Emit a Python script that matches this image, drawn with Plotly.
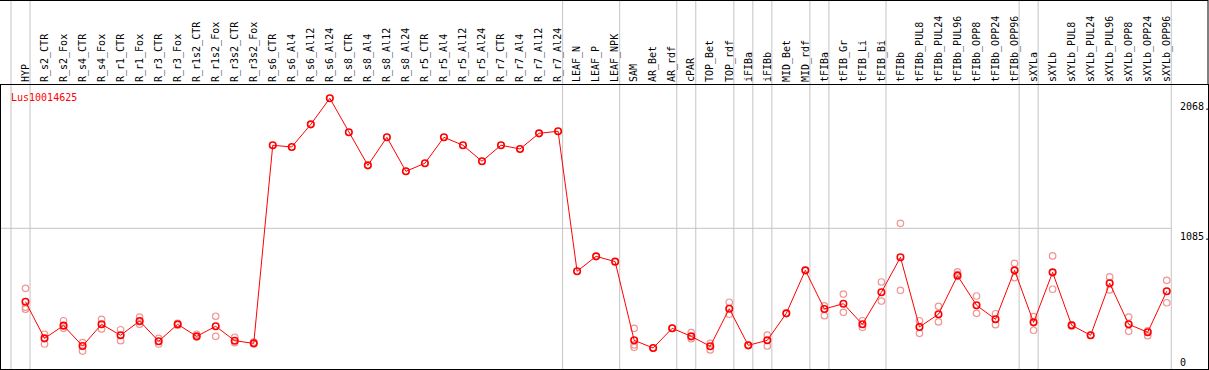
import plotly.graph_objects as go

categories = ["HYP", "R_s2_CTR", "R_s2_Fox", "R_s4_CTR", "R_s4_Fox", "R_r1_CTR", "R_r1_Fox",
              "R_r3_CTR", "R_r3_Fox", "R_r1s2_CTR", "R_r1s2_Fox", "R_r3s2_CTR", "R_r3s2_Fox",
              "R_s6_CTR", "R_s6_Al4", "R_s6_Al12", "R_s6_Al24", "R_s8_CTR", "R_s8_Al4", "R_s8_Al12",
              "R_s8_Al24", "R_r5_CTR", "R_r5_Al4", "R_r5_Al12", "R_r5_Al24", "R_r7_CTR", "R_r7_Al4",
              "R_r7_Al12", "R_r7_Al24", "LEAF_N", "LEAF_P", "LEAF_NPK", "SAM", "AR_Bet", "AR_rdf",
              "cPAR", "TOP_Bet", "TOP_rdf", "iFIBa", "iFIBb", "MID_Bet", "MID_rdf", "tFIBa",
              "tFIB_Gr", "tFIB_Li", "tFIB_Bi", "tFIBb", "tFIBb_PUL8", "tFIBb_PUL24", "tFIBb_PUL96",
              "tFIBb_OPP8", "tFIBb_OPP24", "tFIBb_OPP96", "sXYLa", "sXYLb", "sXYLb_PUL8",
              "sXYLb_PUL24", "sXYLb_PUL96", "sXYLb_OPP8", "sXYLb_OPP24", "sXYLb_OPP96"]

mean_values = [530, 253, 349, 195, 359, 276, 384, 231, 359, 268, 344, 235, 215,
               1713, 1700, 1871, 2068, 1811, 1561, 1773, 1516, 1577, 1773, 1713, 1592,
               1713, 1685, 1803, 1819, 760, 873, 833, 238, 180, 329, 268, 193, 477,
               200, 238, 442, 767, 475, 515, 359, 601, 866, 339, 435, 727, 503, 397,
               767, 374, 752, 352, 276, 669, 359, 299, 609]

rep1 = [631, 284, 386, 220, 397, 318, 414, 253, 367, 284, 420, 261, 225,
        None, None, None, None, None, None, None, None, None, None, None, None,
        None, None, None, None, None, None, None, 329, 180, 329, 296, 215, 526,
        200, 278, 442, 767, 498, 588, 386, 679, 1123, 386, 495, 755, 573, 439,
        820, 417, 876, 345, 276, 717, 414, 273, 692]

rep2 = [488, 210, 329, 157, 324, 235, 379, 210, 352, 263, 268, 220, 212,
        None, None, None, None, None, None, None, None, None, None, None, None,
        None, None, None, None, None, None, None, 203, None, None, 250, 165, 435,
        None, 195, None, None, 424, 450, 336, 535, 616, 291, 377, 737, 442, 356,
        712, 314, 624, 355, None, 619, 306, 310, 522]

rep3 = [473, None, None, None, None, None, 359, None, None, None, None, None, None,
        None, None, None, None, None, None, None, None, None, None, None, None,
        None, None, None, None, None, None, None, 185, None, None, None, None, None,
        None, None, None, None, None, None, None, None, None, None, None, None, None, None,
        None, None, None, None, None, None, None, None, None]

group_ends = [-1, 0, 28, 31, 34, 35, 37, 38, 39, 41, 42, 45, 52, 53, 60]

series_name = "Lus10014625"
y_tick_labels = ["2068.", "1085.", "0"]
mid_line_value = 1085
max_value = 2068

FONT = "DejaVu Sans Mono"
rep_color = "#f09696"

fig = go.Figure()

for reps in (rep1, rep2, rep3):
    fig.add_trace(go.Scatter(
        x=categories, y=reps, mode="markers",
        marker=dict(symbol="circle-open", size=6.5, color=rep_color,
                    line=dict(width=1.2, color=rep_color)),
        hoverinfo="skip", showlegend=False, cliponaxis=False))

fig.add_trace(go.Scatter(
    x=categories, y=mean_values, mode="lines+markers",
    line=dict(color="red", width=1),
    marker=dict(symbol="circle-open", size=6.5, color="red",
                line=dict(width=1.6, color="red")),
    showlegend=False, cliponaxis=False))

x_lo, x_hi = -1.288, 62.17
y_lo, y_hi = 21.1, 2168.6

shapes = []
for g in group_ends:
    shapes.append(dict(type="line", xref="x", yref="paper", x0=g + 0.24, x1=g + 0.24,
                       y0=0, y1=369 / 284, line=dict(color="#c4c4c4", width=1), layer="below"))
shapes.append(dict(type="line", xref="x", yref="y", x0=x_lo, x1=60.24,
                   y0=mid_line_value, y1=mid_line_value,
                   line=dict(color="#c4c4c4", width=1), layer="below"))
# header frame (top and right)
shapes.append(dict(type="line", xref="paper", yref="paper", x0=-1 / 1207, x1=1,
                   y0=368.5 / 284, y1=368.5 / 284, line=dict(color="black", width=1)))
shapes.append(dict(type="line", xref="paper", yref="paper", x0=1, x1=1,
                   y0=1, y1=369 / 284, line=dict(color="black", width=1)))

annotations = [
    dict(text=series_name, xref="paper", yref="paper", x=8 / 1207, y=(369 - 97.5) / 284,
         xanchor="left", yanchor="middle", showarrow=False,
         font=dict(family=FONT, size=10, color="red")),
]
for lab, val, anc in zip(y_tick_labels, [max_value, mid_line_value, 0], ["top", "top", "bottom"]):
    if anc == "bottom":
        yv, yref = 0.0, "paper"
    else:
        yv, yref = val, "y"
    annotations.append(dict(text=lab, xref="paper", yref=yref, x=1177 / 1207, y=yv,
                            xanchor="left", yanchor=anc, showarrow=False, yshift=-1,
                            font=dict(family=FONT, size=10, color="black")))

fig.update_layout(
    width=1209, height=370,
    margin=dict(l=1, r=1, t=85, b=1, pad=0),
    paper_bgcolor="white", plot_bgcolor="white",
    shapes=shapes, annotations=annotations,
    xaxis=dict(type="category", side="top", range=[x_lo, x_hi], tickangle=-90,
               showgrid=False, zeroline=False, ticks="", showline=True, mirror=True,
               linecolor="black", linewidth=1,
               tickfont=dict(family=FONT, size=10, color="black")),
    yaxis=dict(range=[y_lo, y_hi], showgrid=False, zeroline=False, showticklabels=False,
               ticks="", showline=True, mirror=True, linecolor="black", linewidth=1),
)

fig.write_html("out.html", config={"displayModeBar": False},
               post_script="document.body.style.margin='0';document.body.style.padding='0';")
